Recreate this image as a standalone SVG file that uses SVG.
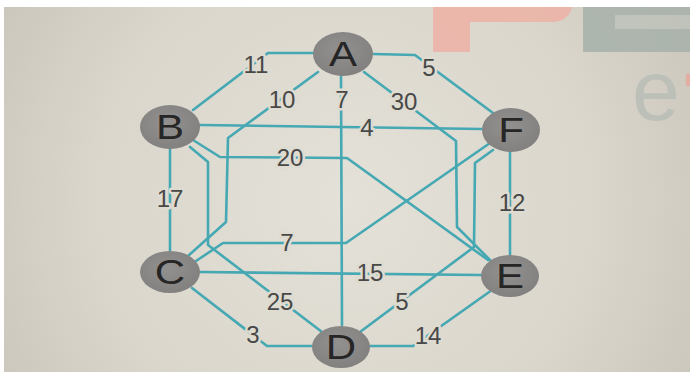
<svg xmlns="http://www.w3.org/2000/svg" width="690" height="378" viewBox="0 0 690 378">
<defs>
<radialGradient id="bg" cx="345" cy="200" r="420" gradientUnits="userSpaceOnUse">
<stop offset="0" stop-color="#e4e1d8"/>
<stop offset="0.6" stop-color="#dad6cc"/>
<stop offset="1" stop-color="#c8c4b9"/>
</radialGradient>
<radialGradient id="nd" cx="0.45" cy="0.4" r="0.6">
<stop offset="0" stop-color="#939190"/>
<stop offset="1" stop-color="#838180"/>
</radialGradient>
<style>
.e{fill:none;stroke:#45a8b3;stroke-width:2.6;stroke-linejoin:round;stroke-linecap:round}
.lb{font-family:"Liberation Sans",Arial,sans-serif;font-size:24px;fill:#484848;text-anchor:middle;paint-order:stroke;stroke:#dedbd1;stroke-width:5px;stroke-linejoin:round}
.nl{font-family:"Liberation Sans",Arial,sans-serif;font-size:35px;fill:#262626;text-anchor:middle}
.nc{fill:url(#nd)}
</style>
</defs>
<rect width="690" height="378" fill="#ffffff"/>
<rect x="4" y="7" width="686" height="365" fill="url(#bg)"/>
<g id="watermark" opacity="0.85">
<rect x="433" y="7" width="37" height="45" fill="#eeb2a6"/>
<path d="M433,7 H572 Q568,22 552,22 H433 Z" fill="#eeb2a6"/>
<rect x="583" y="7" width="107" height="45" fill="#a7b1ab"/>
<rect x="615" y="15" width="75" height="14" fill="#bfc3bb"/>
<text x="632" y="120" font-family="Liberation Sans,Arial,sans-serif" font-size="86" fill="#b9beb7">e</text>
<rect x="686" y="74" width="4" height="12" fill="#e8a99c"/>
</g>
<g id="connectors">
<polyline class="e" points="313,53 268,53 193,110"/>
<polyline class="e" points="373,54 415,55 493,113"/>
<polyline class="e" points="318,72 228,138 226,222 188,256"/>
<polyline class="e" points="341,76 342,325"/>
<polyline class="e" points="364,72 456,141 457,227 492,262"/>
<polyline class="e" points="200,125 482,129"/>
<polyline class="e" points="193,140 220,157 347,158 488,260"/>
<polyline class="e" points="190,147 208,162 208,245 322,332"/>
<polyline class="e" points="170,148 170,252"/>
<polyline class="e" points="510,151 510,256"/>
<polyline class="e" points="490,143 346,243 223,243 193,263"/>
<polyline class="e" points="493,150 475,163 474,247 360,332"/>
<polyline class="e" points="200,272 481,275"/>
<polyline class="e" points="192,288 267,346 312,346"/>
<polyline class="e" points="370,346 413,346 492,290"/>
</g>
<g id="labels">
<text class="lb" x="256" y="73">11</text>
<text class="lb" x="429" y="76">5</text>
<text class="lb" x="282" y="108">10</text>
<text class="lb" x="342" y="108">7</text>
<text class="lb" x="404" y="110">30</text>
<text class="lb" x="367" y="136">4</text>
<text class="lb" x="290" y="166">20</text>
<text class="lb" x="170" y="207">17</text>
<text class="lb" x="512" y="211">12</text>
<text class="lb" x="287" y="251">7</text>
<text class="lb" x="370" y="281">15</text>
<text class="lb" x="280" y="310">25</text>
<text class="lb" x="402" y="310">5</text>
<text class="lb" x="253" y="343">3</text>
<text class="lb" x="428" y="344">14</text>
</g>
<g id="node-A"><ellipse class="nc" cx="343" cy="54" rx="30" ry="22"/><text class="nl" transform="translate(343,66) scale(1.2,1)">A</text></g>
<g id="node-B"><ellipse class="nc" cx="170" cy="127" rx="30" ry="22"/><text class="nl" transform="translate(170,139) scale(1.2,1)">B</text></g>
<g id="node-F"><ellipse class="nc" cx="511" cy="130" rx="29" ry="22"/><text class="nl" transform="translate(511,142) scale(1.2,1)">F</text></g>
<g id="node-C"><ellipse class="nc" cx="170" cy="272" rx="30" ry="21"/><text class="nl" transform="translate(170,284) scale(1.2,1)">C</text></g>
<g id="node-E"><ellipse class="nc" cx="510" cy="276" rx="29" ry="21"/><text class="nl" transform="translate(510,288) scale(1.2,1)">E</text></g>
<g id="node-D"><ellipse class="nc" cx="341" cy="347" rx="29" ry="21"/><text class="nl" transform="translate(341,359) scale(1.2,1)">D</text></g>
</svg>
